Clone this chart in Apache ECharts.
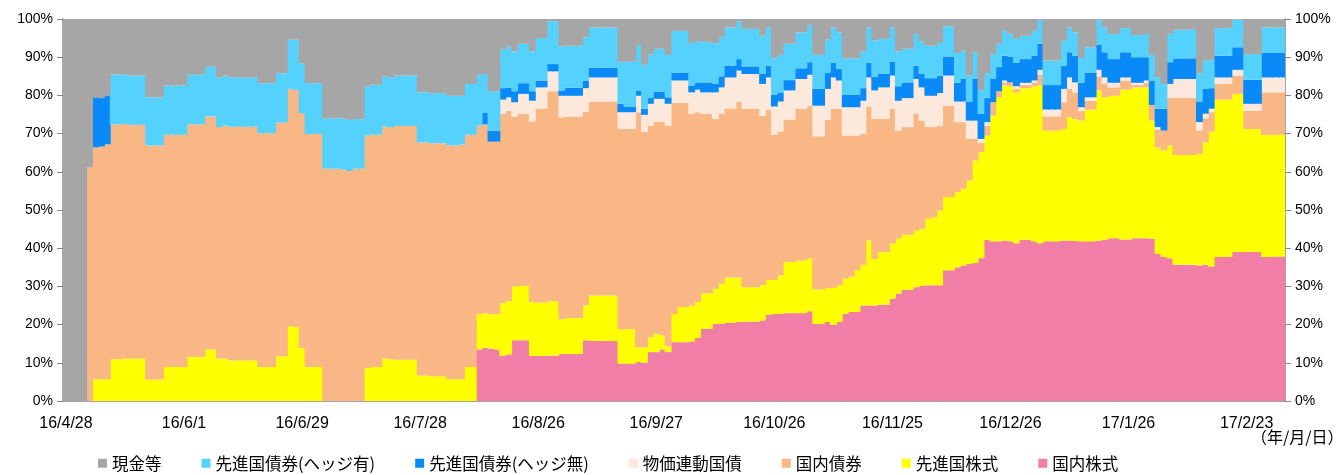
<!DOCTYPE html>
<html><head><meta charset="utf-8">
<script src="https://cdn.jsdelivr.net/npm/echarts@6/dist/echarts.min.js"></script>
<style>html,body{margin:0;padding:0;background:#fff;}#c{width:1339px;height:475px;}</style>
</head><body><div id="c"></div>
<script>
const categories = [
'16/4/28','16/5/2','16/5/6','16/5/9','16/5/10','16/5/11','16/5/12','16/5/13','16/5/16','16/5/17',
'16/5/18','16/5/19','16/5/20','16/5/23','16/5/24','16/5/25','16/5/26','16/5/27','16/5/30','16/5/31',
'16/6/1','16/6/2','16/6/3','16/6/6','16/6/7','16/6/8','16/6/9','16/6/10','16/6/13','16/6/14',
'16/6/15','16/6/16','16/6/17','16/6/20','16/6/21','16/6/22','16/6/23','16/6/24','16/6/27','16/6/28',
'16/6/29','16/6/30','16/7/1','16/7/4','16/7/5','16/7/6','16/7/7','16/7/8','16/7/11','16/7/12',
'16/7/13','16/7/14','16/7/15','16/7/19','16/7/20','16/7/21','16/7/22','16/7/25','16/7/26','16/7/27',
'16/7/28','16/7/29','16/8/1','16/8/2','16/8/3','16/8/4','16/8/5','16/8/8','16/8/9','16/8/10',
'16/8/12','16/8/15','16/8/16','16/8/17','16/8/18','16/8/19','16/8/22','16/8/23','16/8/24','16/8/25',
'16/8/26','16/8/29','16/8/30','16/8/31','16/9/1','16/9/2','16/9/5','16/9/6','16/9/7','16/9/8',
'16/9/9','16/9/12','16/9/13','16/9/14','16/9/15','16/9/16','16/9/20','16/9/21','16/9/23','16/9/26',
'16/9/27','16/9/28','16/9/29','16/9/30','16/10/3','16/10/4','16/10/5','16/10/6','16/10/7','16/10/11',
'16/10/12','16/10/13','16/10/14','16/10/17','16/10/18','16/10/19','16/10/20','16/10/21','16/10/24','16/10/25',
'16/10/26','16/10/27','16/10/28','16/10/31','16/11/1','16/11/2','16/11/4','16/11/7','16/11/8','16/11/9',
'16/11/10','16/11/11','16/11/14','16/11/15','16/11/16','16/11/17','16/11/18','16/11/21','16/11/22','16/11/24',
'16/11/25','16/11/28','16/11/29','16/11/30','16/12/1','16/12/2','16/12/5','16/12/6','16/12/7','16/12/8',
'16/12/9','16/12/12','16/12/13','16/12/14','16/12/15','16/12/16','16/12/19','16/12/20','16/12/21','16/12/22',
'16/12/26','16/12/27','16/12/28','16/12/29','16/12/30','17/1/4','17/1/5','17/1/6','17/1/10','17/1/11',
'17/1/12','17/1/13','17/1/16','17/1/17','17/1/18','17/1/19','17/1/20','17/1/23','17/1/24','17/1/25',
'17/1/26','17/1/27','17/1/30','17/1/31','17/2/1','17/2/2','17/2/3','17/2/6','17/2/7','17/2/8',
'17/2/9','17/2/10','17/2/13','17/2/14','17/2/15','17/2/16','17/2/17','17/2/20','17/2/21','17/2/22',
'17/2/23','17/2/24','17/2/27','17/2/28','17/3/1','17/3/2','17/3/3'
];

const domesticEquity = [
0,0,0,0,0,0,0,0,0,0, 0,0,0,0,0,0,0,0,0,0, 0,0,0,0,0,0,0,0,0,0, 0,0,0,0,0,0,0,0,0,0,
0,0,0,0,0,0,0,0,0,0, 0,0,0,0,0,0,0,0,0,0, 0,0,0,0,0,0,0,0,0,0,
13.5,13.9,13.7,13.5,11.9,12.2,15.9,15.9,15.9,11.8,
11.8,11.8,11.9,11.9,12.3,12.3,12.3,12.3,15.9,15.7,
15.7,15.7,15.7,15.7,9.8,9.8,9.8,10.2,10.0,12.8,
12.8,13.5,12.8,15.4,15.4,15.4,15.6,16.5,18.9,18.9,
20.2,20.2,20.5,20.5,20.7,20.8,20.8,20.8,21.1,22.6,
22.8,22.8,23.0,23.0,23.0,23.0,23.5,20.2,20.2,20.7,
19.9,20.7,22.8,23.3,23.3,25.0,25.0,25.0,25.2,25.2,
26.8,28.1,29.1,29.1,29.8,30.1,30.3,30.3,30.3,34.2,
34.2,35.0,35.5,35.9,36.1,37.4,42.2,41.8,41.8,42.0,
41.8,41.3,42.2,42.2,41.8,41.3,41.8,41.8,41.8,42.0,
42.0,41.9,41.8,41.8,41.8,42.0,42.2,42.6,42.6,42.3,
42.3,42.6,42.6,42.6,42.5,38.5,37.7,37.4,35.7,35.7,
35.7,35.7,35.5,35.7,35.2,37.7,37.7,37.7,39.0,39.0,
39.0,39.0,39.0,37.7,37.7,37.8,37.8
];

const foreignEquity = [
0,0,0,0,0,5.7,5.7,5.7,10.9,10.9,
11.1,11.1,11.1,11.1,5.6,5.6,5.6,8.9,8.9,8.9,
8.9,11.5,11.5,11.5,13.5,13.5,11.1,11.1,10.6,10.6,
10.6,10.6,10.6,8.9,8.9,8.9,11.7,11.7,19.6,19.4,
13.9,8.9,8.9,8.9,0,0,0,0,0,0,
0,8.6,8.9,8.9,11.1,10.9,10.8,10.8,10.8,10.8,
6.7,6.7,6.5,6.5,6.5,5.7,5.7,5.7,8.9,8.9,
9.2,9.1,9.0,9.2,13.7,14.0,14.1,14.2,14.2,14.1,
14.0,14.0,14.2,14.2,9.1,9.4,9.4,9.4,9.1,11.9,
11.9,11.9,11.9,11.9,9.0,9.0,9.0,3.9,4.1,3.9,
4.8,3.7,1.5,7.4,9.2,9.2,9.4,9.4,9.3,9.3,
9.2,10.5,11.8,11.8,11.6,9.0,9.0,9.0,9.2,9.1,
8.9,10.1,13.4,13.4,13.8,13.8,13.9,9.0,9.0,8.9,
9.7,9.6,9.2,9.3,10.9,10.7,17.0,12.2,13.8,13.8,
14.4,14.4,14.4,14.4,14.8,15.0,17.4,17.8,19.6,19.2,
19.2,19.7,20.1,21.8,26.8,27.7,27.3,32.9,37.7,40.6,
40.6,39.5,39.7,39.7,40.6,41.3,29.0,29.0,29.0,29.2,
32.3,31.9,31.6,34.5,34.5,39.3,37.3,37.3,37.3,39.2,
39.2,39.5,39.5,39.5,30.9,27.9,27.9,29.5,28.7,28.7,
28.7,28.7,29.2,32.0,35.3,41.2,41.2,41.2,41.4,41.4,
32.2,32.2,32.2,32.0,32.0,31.9,31.9
];

const domesticBond = [
0,0,0,0,61.2,60.7,60.9,61.5,61.5,61.5,
61.4,61.2,61.2,61.2,61.3,61.3,61.3,60.8,60.8,60.8,
60.8,60.9,60.9,60.9,61.0,61.0,60.6,61.0,61.2,61.2,
61.2,61.2,61.2,61.2,61.2,61.2,61.2,61.2,62.1,62.0,
61.4,61.0,61.0,61.0,60.8,60.8,60.8,60.6,60.2,60.8,
60.8,60.9,60.8,60.8,60.7,60.8,61.2,61.2,61.2,61.2,
61.0,61.0,61.0,61.0,61.0,61.2,61.2,61.4,60.8,60.8,
49.4,49.4,45.2,45.2,49.6,49.7,44.5,45.1,45.1,47.3,
50.8,50.8,55.0,55.0,52.9,52.8,52.8,52.8,50.8,50.8,
50.8,50.8,50.8,50.8,52.5,52.5,52.5,61.5,56.4,55.4,
55.5,55.9,57.8,55.2,53.4,53.4,50.2,49.7,47.0,47.0,
44.4,44.5,44.3,44.3,46.1,46.7,46.7,46.7,44.4,44.5,
38.0,37.6,37.3,37.3,39.7,39.7,39.9,40.1,40.1,44.0,
46.9,46.2,37.5,36.9,35.3,34.2,35.1,36.6,34.8,34.8,
35.3,28.3,28.2,28.2,30.6,28.3,24.0,23.6,22.2,23.9,
23.9,18.3,17.4,10.9,5.7,2.4,2.5,3.5,1.6,0.8,
1.0,0.9,0.8,0.8,1.0,2.8,3.7,3.7,3.7,7.0,
7.4,7.0,2.5,2.3,2.3,3.7,3.5,2.2,2.2,2.4,
2.4,0.6,0.6,1.2,4.1,4.7,5.2,12.4,14.9,14.9,
14.9,14.9,6.1,6.3,5.1,4.1,4.1,4.1,4.8,4.8,
4.8,4.8,4.8,11.1,11.1,11.1,11.1
];

const inflationBond = [
0,0,0,0,0,0,0,0,0,0, 0,0,0,0,0,0,0,0,0,0, 0,0,0,0,0,0,0,0,0,0, 0,0,0,0,0,0,0,0,0,0,
0,0,0,0,0,0,0,0,0,0, 0,0,0,0,0,0,0,0,0,0, 0,0,0,0,0,0,0,0,0,0,
0,0,0,0,3.7,3.6,3.7,5.2,5.2,5.4,
5.5,5.5,5.2,5.2,5.6,5.4,5.4,5.4,6.1,6.3,
6.3,6.3,6.3,6.3,4.3,4.3,4.3,4.3,4.4,5.7,
6.0,6.0,5.7,5.9,5.9,5.9,5.6,5.9,5.6,5.6,
7.0,6.9,8.1,8.1,8.1,9.1,9.1,9.1,8.3,8.5,
7.4,7.9,7.6,7.6,7.8,7.8,8.1,8.0,8.0,8.1,
8.2,7.4,7.4,7.4,7.4,8.7,7.6,7.5,8.3,8.3,
8.7,7.8,7.6,7.6,9.1,8.7,8.2,8.2,8.5,7.9,
7.9,5.4,5.4,4.8,4.8,1.1,1.0,0,0,0.5,
0,0.7,0.6,0.6,0.5,1.3,1.8,1.8,1.8,3.5,
3.0,2.6,1.0,0.9,0.9,1.7,1.7,1.2,1.2,0.8,
0.8,0.6,0.6,0.6,0,0.6,0,3.7,5.0,5.0,
5.0,5.0,2.2,1.2,0.9,1.7,1.7,1.7,1.5,1.5,
1.8,1.8,1.8,3.9,3.9,3.9,3.9
];

const unhedgedBond = [
0,0,0,0,0,13.1,12.7,12.8,0,0,
0,0,0,0,0,0,0,0,0,0, 0,0,0,0,0,0,0,0,0,0, 0,0,0,0,0,0,0,0,0,0,
0,0,0,0,0,0,0,0,0,0, 0,0,0,0,0,0,0,0,0,0, 0,0,0,0,0,0,0,0,0,0,
0,3.0,2.9,2.9,3.0,2.5,2.9,2.8,2.8,2.5,
1.8,1.8,1.9,1.9,1.4,2.1,2.1,2.1,2.0,2.5,
2.5,2.5,2.5,2.5,2.2,1.5,1.5,1.4,1.6,1.5,
1.9,1.9,1.7,2.0,2.1,2.1,1.8,1.9,2.6,2.6,
2.2,2.9,3.1,3.1,3.0,2.0,2.0,2.0,2.6,3.1,
3.0,2.4,2.7,2.7,2.8,2.8,3.3,4.4,4.4,4.3,
3.8,3.0,3.2,3.2,3.2,3.3,3.8,3.5,3.5,3.5,
3.6,3.8,4.1,4.1,3.5,3.5,4.6,4.6,4.6,5.0,
5.0,4.9,5.9,5.0,10.9,6.6,6.3,6.1,6.3,6.5,
6.8,6.1,6.2,6.2,6.5,6.8,6.4,6.4,6.4,6.1,
6.6,7.0,6.4,6.5,6.5,6.5,6.6,6.2,6.2,6.6,
6.6,6.7,6.7,6.1,6.4,4.8,5.7,5.7,5.4,5.4,
5.4,5.4,5.4,6.5,5.4,5.7,5.7,5.7,5.9,5.9,
6.3,6.3,6.3,6.4,6.4,6.4,6.4
];

const hedgedBond = [
0,0,0,0,0,0,0,0,13.1,13.1,
12.9,12.9,12.9,12.9,12.6,12.6,12.6,12.9,12.9,12.9,
12.9,13.0,13.0,13.0,13.0,13.0,13.0,13.1,12.9,12.9,
12.9,12.9,12.9,13.1,13.1,13.1,12.9,12.9,12.9,13.2,
13.1,13.3,13.3,13.3,13.2,13.2,13.2,13.4,13.4,13.0,
13.0,12.9,13.1,13.1,13.2,13.0,13.2,13.2,13.2,13.2,
13.1,13.1,13.1,13.1,13.1,13.0,13.0,12.8,13.3,13.3,
13.3,10.2,10.3,10.3,10.1,10.8,10.4,10.3,10.3,10.4,
11.1,11.1,11.2,11.2,11.5,11.0,11.0,11.0,11.3,10.6,
10.6,10.6,10.6,10.6,11.0,11.7,11.7,11.7,11.5,11.4,
11.2,11.2,11.1,11.0,10.9,10.9,11.1,10.8,10.6,10.6,
10.6,10.2,10.0,10.0,9.9,9.8,9.8,9.8,10.0,10.0,
9.6,9.8,9.5,9.5,9.4,9.4,9.7,8.9,8.9,8.6,
9.3,9.6,9.6,9.6,9.6,9.6,9.3,9.6,9.2,9.2,
9.0,9.1,8.8,8.8,8.3,8.5,8.5,8.5,8.5,7.9,
7.9,7.8,7.4,6.8,7.0,6.2,6.5,6.5,6.1,6.5,
5.9,6.3,6.1,6.1,6.5,6.3,6.4,6.4,6.4,6.5,
6.5,6.1,6.5,6.6,6.6,6.6,6.5,6.6,6.6,6.3,
6.3,5.8,5.8,6.1,6.7,8.2,6.5,7.4,7.5,7.5,
7.5,7.5,7.4,7.4,7.4,7.2,7.2,7.2,7.2,7.2,
6.7,6.7,6.7,6.7,6.7,6.7,6.7
];

const cash = [
100,100,100,100,38.8,20.5,20.7,20.0,14.5,14.5,
14.6,14.8,14.8,14.8,20.5,20.5,20.5,17.4,17.4,17.4,
17.4,14.6,14.6,14.6,12.5,12.5,15.3,14.8,15.3,15.3,
15.3,15.3,15.3,16.8,16.8,16.8,14.2,14.2,5.4,5.4,
11.6,16.8,16.8,16.8,26.0,26.0,26.0,26.0,26.4,26.2,
26.2,17.6,17.2,17.2,15.0,15.3,14.8,14.8,14.8,14.8,
19.2,19.2,19.4,19.4,19.4,20.1,20.1,20.1,17.0,17.0,
14.6,14.4,18.9,18.9,8.0,7.2,8.5,6.5,6.5,8.5,
5.0,5.0,0.6,0.6,7.2,7.0,7.0,7.0,4.8,2.2,
2.2,2.2,2.2,2.2,11.2,11.2,11.2,7.0,12.0,9.3,
7.8,7.8,9.4,3.1,3.1,3.1,6.3,5.8,6.0,6.0,
6.4,4.8,2.2,2.2,0.6,2.6,2.6,2.6,4.4,2.2,
10.3,9.4,6.5,6.5,3.5,3.5,1.6,9.4,9.4,5.4,
2.2,3.5,10.3,10.3,10.3,8.5,2.2,5.6,5.2,5.2,
2.2,8.5,7.8,7.8,3.9,5.9,7.0,7.0,6.3,1.9,
1.9,8.9,8.3,14.8,8.7,18.6,14.2,9.2,6.5,3.1,
3.9,5.2,4.4,4.4,3.1,0.2,10.9,10.9,10.9,5.7,
2.2,3.5,10.2,7.4,7.4,0.2,2.2,3.9,3.9,2.4,
2.4,4.2,4.2,3.9,9.4,15.3,17.0,3.9,2.8,2.8,
2.8,2.8,14.2,10.9,10.7,2.4,2.4,2.4,0.2,0.2,
9.2,9.2,9.2,2.2,2.2,2.2,2.2
];

const yTicks = [0,10,20,30,40,50,60,70,80,90,100];
const legendNames = ['現金等','先進国債券(ヘッジ有)','先進国債券(ヘッジ無)','物価連動国債','国内債券','先進国株式','国内株式'];

const stackDefs = [
  {name:'国内株式', data: domesticEquity, color:'#F17EA7'},
  {name:'先進国株式', data: foreignEquity, color:'#FFFF00'},
  {name:'国内債券', data: domesticBond, color:'#F8B785'},
  {name:'物価連動国債', data: inflationBond, color:'#FDE9DB'},
  {name:'先進国債券(ヘッジ無)', data: unhedgedBond, color:'#0A8AF6'},
  {name:'先進国債券(ヘッジ有)', data: hedgedBond, color:'#55D1FE'},
  {name:'現金等', data: cash, color:'#A6A6A6'}
];

const axisColor = '#868686';
const chart = echarts.init(document.getElementById('c'), null, {renderer:'canvas', width:1339, height:475});
const yAxisCommon = {
  type:'value', min:yTicks[0], max:yTicks[yTicks.length-1], interval:10,
  axisLine:{show:true, lineStyle:{color:axisColor, width:1.5}},
  axisTick:{show:true, length:6, lineStyle:{color:axisColor, width:1}},
  splitLine:{show:false},
  axisLabel:{formatter:'{value}%', color:'#000', fontSize:14, fontFamily:'Liberation Sans', margin:10}
};
chart.setOption({
  animation:false,
  backgroundColor:'#fff',
  grid:{left:63, right:54, top:19, bottom:74},
  legend:{
    data: legendNames, top:450, left:93, icon:'rect', itemWidth:9, itemHeight:9, itemGap:40,
    textStyle:{fontSize:16.5, color:'#000', fontFamily:'Noto Sans CJK JP'}
  },
  xAxis:{
    type:'category', data:categories, boundaryGap:true,
    axisLine:{lineStyle:{color:axisColor, width:1.5}},
    axisTick:{show:false},
    axisLabel:{interval:19, color:'#000', fontSize:16, fontFamily:'Liberation Sans', margin:15}
  },
  yAxis:[Object.assign({position:'left'}, yAxisCommon), Object.assign({position:'right'}, yAxisCommon)],
  series: stackDefs.map(s => ({
    name:s.name, type:'bar', stack:'total', data:s.data.map(v => v === 0 ? null : v), barWidth:'116%',
    itemStyle:{color:s.color}, emphasis:{disabled:true}
  })),
  graphic:[{type:'text', left:1251, top:429, style:{text:'（年/月/日）', fill:'#000', font:'16px "Noto Sans CJK JP"'}}]
});
</script></body></html>
